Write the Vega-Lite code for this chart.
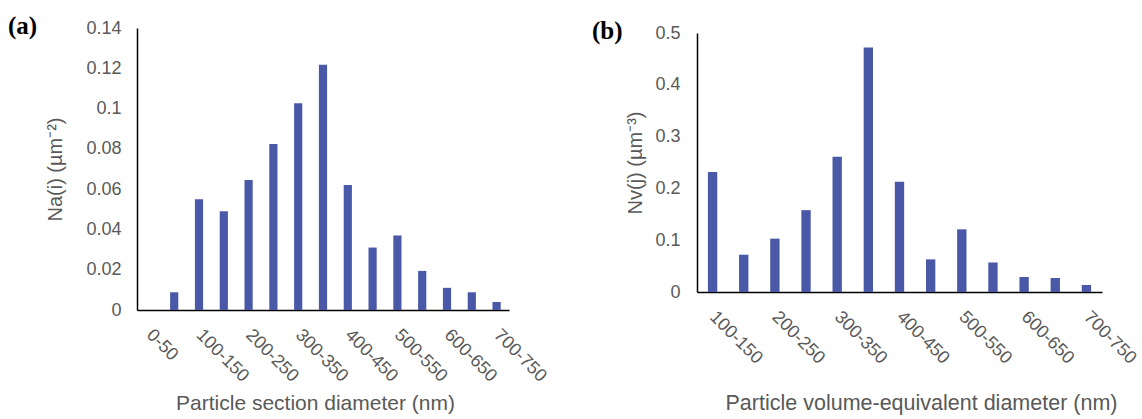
{
  "$schema": "https://vega.github.io/schema/vega-lite/v6.json",
  "padding": {"left": 8, "top": 14, "right": 5, "bottom": 5},
  "bounds": "flush",
  "spacing": 188,
  "config": {
    "view": {"stroke": null},
    "font": "Liberation Sans",
    "axis": {"grid": false, "ticks": false, "tickSize": 0, "domainColor": "#000000", "domainWidth": 1.5, "labelColor": "#595959", "titleColor": "#595959", "titleFontWeight": "normal", "labelFontSize": 18, "titleFontSize": 20}
  },
  "datasets": {
    "sectionDiam": [
      {"bin": "0-50", "value": 0},
      {"bin": "50-100", "value": 0.0088},
      {"bin": "100-150", "value": 0.055},
      {"bin": "150-200", "value": 0.049},
      {"bin": "200-250", "value": 0.0645},
      {"bin": "250-300", "value": 0.0824},
      {"bin": "300-350", "value": 0.1026},
      {"bin": "350-400", "value": 0.1217},
      {"bin": "400-450", "value": 0.062},
      {"bin": "450-500", "value": 0.031},
      {"bin": "500-550", "value": 0.037},
      {"bin": "550-600", "value": 0.0194},
      {"bin": "600-650", "value": 0.011},
      {"bin": "650-700", "value": 0.0088},
      {"bin": "700-750", "value": 0.004}
    ],
    "volumeDiam": [
      {"bin": "100-150", "value": 0.2316},
      {"bin": "150-200", "value": 0.072},
      {"bin": "200-250", "value": 0.103},
      {"bin": "250-300", "value": 0.158},
      {"bin": "300-350", "value": 0.261},
      {"bin": "350-400", "value": 0.472},
      {"bin": "400-450", "value": 0.213},
      {"bin": "450-500", "value": 0.063},
      {"bin": "500-550", "value": 0.121},
      {"bin": "550-600", "value": 0.057},
      {"bin": "600-650", "value": 0.029},
      {"bin": "650-700", "value": 0.027},
      {"bin": "700-750", "value": 0.0135}
    ]
  },
  "hconcat": [
    {
      "title": {"text": "(a)", "anchor": "start", "frame": "group", "dx": -129, "dy": 40, "offset": 0, "baseline": "alphabetic", "font": "Liberation Serif", "fontSize": 25, "fontWeight": "bold", "color": "#000000"},
      "width": 372,
      "height": 282,
      "data": {"name": "sectionDiam"},
      "mark": {"type": "bar", "color": "#4a58a8"},
      "encoding": {
        "x": {
          "field": "bin", "type": "nominal", "sort": null,
          "scale": {"paddingInner": 0.67, "paddingOuter": 0.335},
          "axis": {
            "title": "Particle section diameter (nm)",
            "values": ["0-50", "100-150", "200-250", "300-350", "400-450", "500-550", "600-650", "700-750"],
            "labelAngle": 45, "labelAlign": "left", "labelBaseline": "middle", "labelPadding": 22, "labelOverlap": false,
            "titleFontSize": 21, "titleX": 178, "titleY": 99, "titleBaseline": "alphabetic", "titleAlign": "center"
          }
        },
        "y": {
          "field": "value", "type": "quantitative",
          "scale": {"domain": [0, 0.14]},
          "axis": {
            "title": "Na(i) (µm⁻²)",
            "values": [0, 0.02, 0.04, 0.06, 0.08, 0.1, 0.12, 0.14],
            "format": "~g", "labelPadding": 16, "titleX": -72
          }
        }
      }
    },
    {
      "title": {"text": "(b)", "anchor": "start", "frame": "group", "dx": -105, "dy": 40, "offset": 0, "baseline": "alphabetic", "font": "Liberation Serif", "fontSize": 25, "fontWeight": "bold", "color": "#000000"},
      "width": 405,
      "height": 264,
      "data": {"name": "volumeDiam"},
      "mark": {"type": "bar", "color": "#4a58a8"},
      "encoding": {
        "x": {
          "field": "bin", "type": "nominal", "sort": null,
          "scale": {"paddingInner": 0.7, "paddingOuter": 0.35},
          "axis": {
            "title": "Particle volume-equivalent diameter (nm)",
            "values": ["100-150", "200-250", "300-350", "400-450", "500-550", "600-650", "700-750"],
            "labelAngle": 45, "labelAlign": "left", "labelBaseline": "middle", "labelPadding": 22, "labelOverlap": false,
            "titleFontSize": 21.5, "titleX": 224, "titleY": 117, "titleBaseline": "alphabetic", "titleAlign": "center"
          }
        },
        "y": {
          "field": "value", "type": "quantitative",
          "scale": {"domain": [0, 0.5], "range": [264, 5]},
          "axis": {
            "title": "Nv(j) (µm⁻³)",
            "values": [0, 0.1, 0.2, 0.3, 0.4, 0.5],
            "format": "~g", "labelPadding": 17, "titleX": -52
          }
        }
      }
    }
  ]
}
